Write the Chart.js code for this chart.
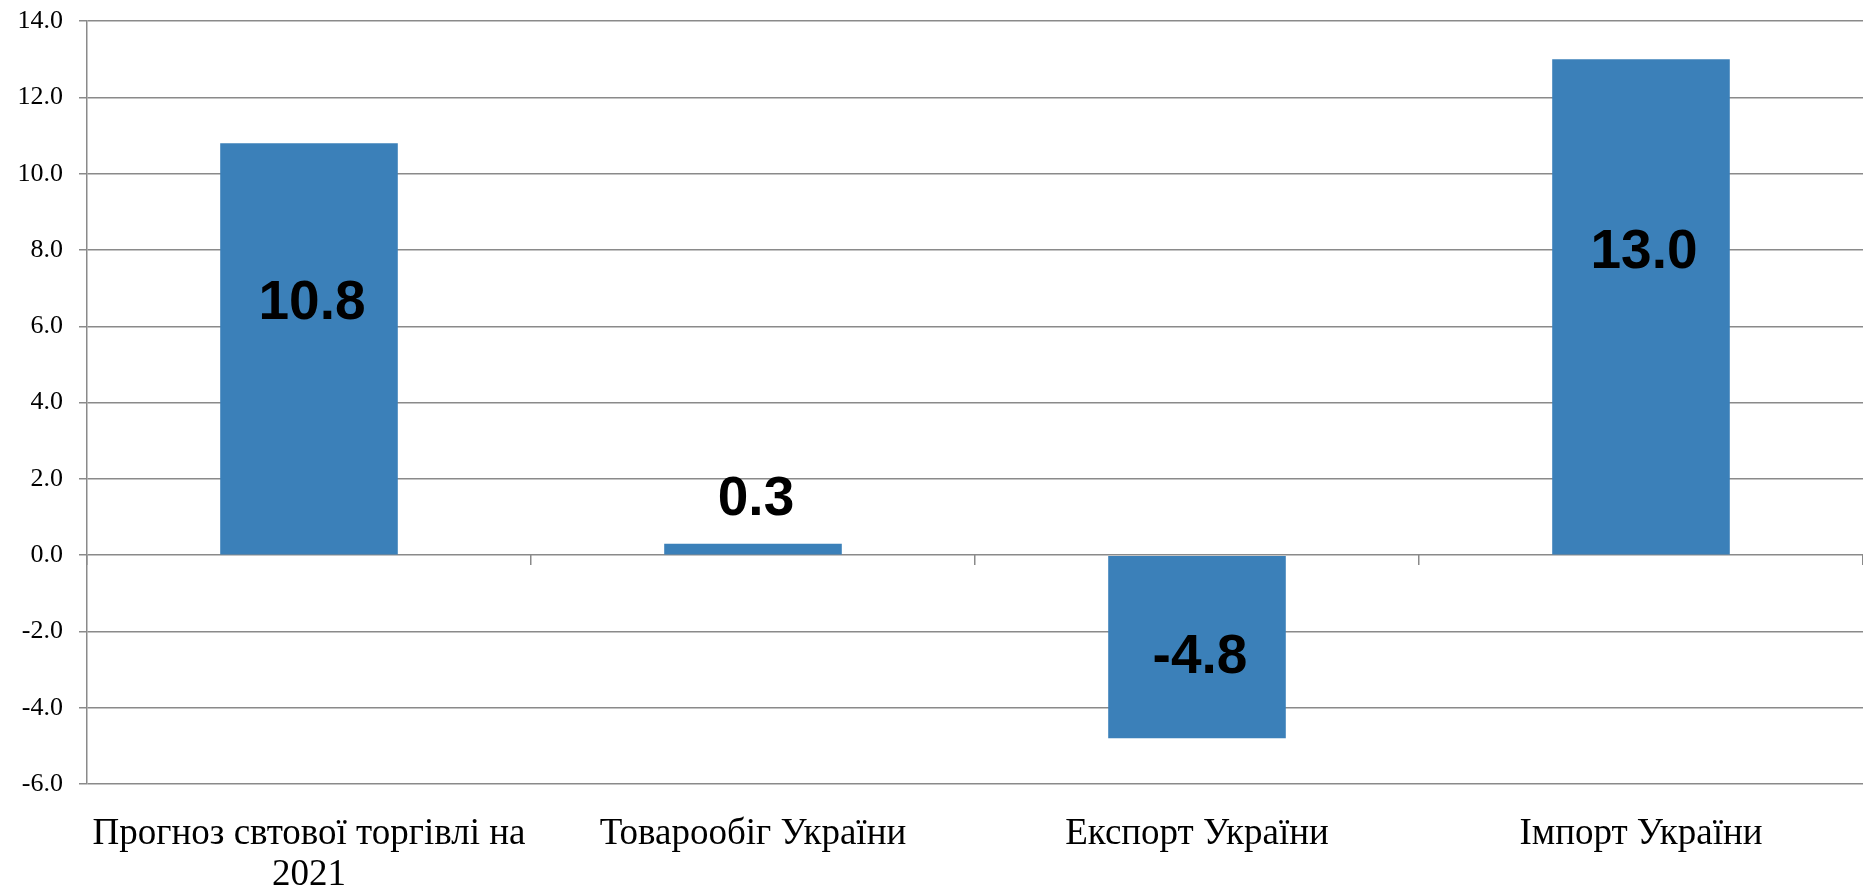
<!DOCTYPE html>
<html>
<head>
<meta charset="utf-8">
<script src="https://cdn.jsdelivr.net/npm/chart.js@4/dist/chart.umd.min.js"></script>
<style>
  html, body { margin: 0; padding: 0; background: #fff; }
  #wrap { width: 1863px; height: 889px; }
</style>
</head>
<body>
<div id="wrap"><canvas id="chart" width="1863" height="889"></canvas></div>
<script>
// ─── data ───────────────────────────────────────────
const categories = [
  ['Прогноз свтової торгівлі на', '2021'],
  'Товарообіг України',
  'Експорт України',
  'Імпорт України',
];
const values = [10.8, 0.3, -4.8, 13.0];
const yTicks = { min: -6, max: 14, step: 2 };

// ─── styles ─────────────────────────────────────────
const barBlue  = '#3b80b9';
const gridGray = '#8a8a8a';
const serif    = "'Liberation Serif', 'Times New Roman', serif";

// value labels inside / above the bars
const valueLabels = {
  id: 'valueLabels',
  afterDatasetsDraw(chart) {
    const { ctx } = chart;
    const yScale = chart.scales.y;
    const meta = chart.getDatasetMeta(0);
    ctx.save();
    ctx.font = "bold 55px 'Liberation Sans', Arial, sans-serif";
    ctx.fillStyle = '#000';
    ctx.textAlign = 'center';
    ctx.textBaseline = 'middle';
    meta.data.forEach((bar, i) => {
      const v = values[i];
      const y = Math.abs(v) < 1
        ? bar.y - 44
        : yScale.getPixelForValue(v * (v > 0 ? 0.61 : 0.56));
      ctx.fillText(v.toFixed(1), bar.x + 3, y);
    });
    ctx.restore();
  }
};

new Chart(document.getElementById('chart'), {
  type: 'bar',
  data: {
    labels: categories,
    datasets: [{
      data: values,
      backgroundColor: barBlue,
      borderWidth: 0,
      categoryPercentage: 1,
      barPercentage: 0.4,
    }]
  },
  options: {
    responsive: false,
    animation: false,
    devicePixelRatio: 1,
    layout: { padding: 0 },
    plugins: {
      legend: { display: false },
      tooltip: { enabled: false },
    },
    scales: {
      x: {
        position: 'bottom',
        grid: { display: false },
        border: { display: false },
        ticks: {
          font: { family: serif, size: 37, lineHeight: 1.1 },
          color: '#000',
          padding: 22,
          maxRotation: 0,
          autoSkip: false,
        },
        afterFit(scale) { scale.height = 105; },
      },
      x0: {
        type: 'category',
        position: { y: 0 },
        offset: true,
        grid: {
          offset: true,
          drawOnChartArea: false,
          drawTicks: true,
          tickLength: 10,
          color: gridGray,
          lineWidth: 1.5,
        },
        border: { display: false },
        ticks: { display: false },
      },
      y: {
        min: yTicks.min,
        max: yTicks.max,
        ticks: {
          stepSize: yTicks.step,
          callback: v => v.toFixed(1),
          font: { family: serif, size: 26, lineHeight: 0.4 },
          color: '#000',
          padding: 16,
        },
        grid: {
          color: gridGray,
          lineWidth: 1.5,
          tickLength: 8,
        },
        border: { color: gridGray, width: 1.5 },
        afterFit(scale) { scale.width = 87; },
      }
    }
  },
  plugins: [valueLabels]
});
</script>
</body>
</html>
